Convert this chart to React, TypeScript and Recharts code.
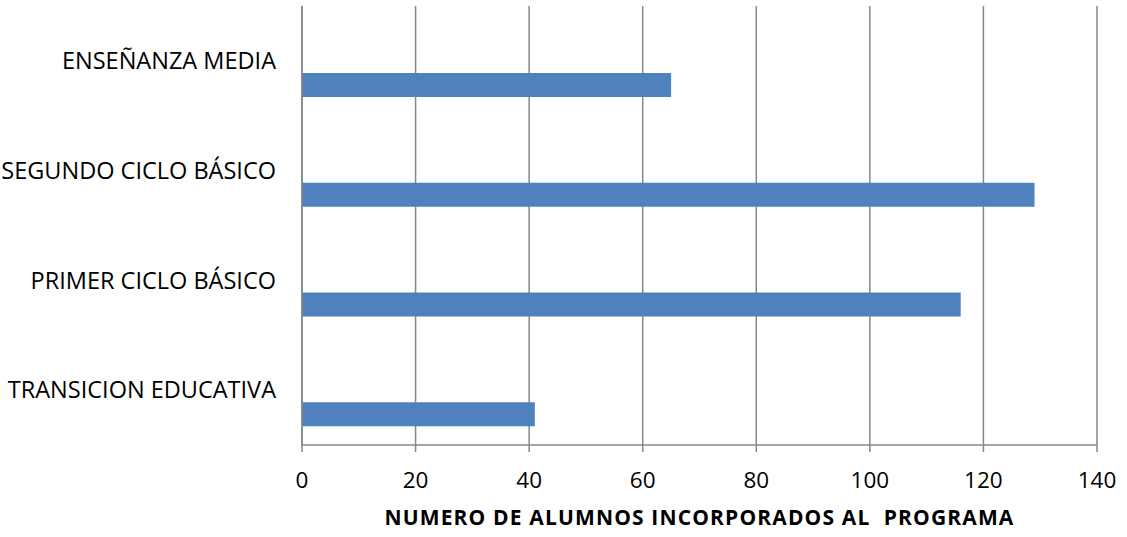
import React from "react";
import { BarChart, Bar, XAxis, YAxis, CartesianGrid, Label } from "recharts";

const categories = [
  "ENSEÑANZA MEDIA",
  "SEGUNDO CICLO BÁSICO",
  "PRIMER CICLO BÁSICO",
  "TRANSICION EDUCATIVA",
];
const values = [65, 129, 116, 41];
const xTicks = [0, 20, 40, 60, 80, 100, 120, 140];
const xTitle = "NUMERO DE ALUMNOS INCORPORADOS AL  PROGRAMA";

const data = categories.map((c, i) => ({ name: c, alumnos: values[i] }));

const FONT = "'Open Sans', sans-serif";
const GRID = "#878787";

const TitleLabel = (props: any) => {
  const vb = props.viewBox || {};
  const cx = vb.x + vb.width / 2;
  const y = vb.y + vb.height - 12;
  return (
    <text
      x={cx}
      y={y}
      textAnchor="middle"
      fill="#000"
      fontSize={21}
      fontWeight={700}
      fontFamily={FONT}
      letterSpacing={1.15}
      xmlSpace="preserve"
      style={{ whiteSpace: "pre" }}
    >
      {xTitle}
    </text>
  );
};

export default function App() {
  return (
    <div style={{ position: "absolute", left: 0, top: 0, width: 1127, height: 537, background: "#fff" }}>
      <BarChart
        width={1127}
        height={537}
        data={data}
        layout="vertical"
        margin={{ top: 6, right: 30, left: 0, bottom: 0 }}
        barGap={0}
        barSize={24}
      >
        <CartesianGrid horizontal={false} vertical={true} stroke={GRID} strokeWidth={1.5} />
        <XAxis
          type="number"
          domain={[0, 140]}
          ticks={xTicks}
          height={92}
          interval={0}
          axisLine={{ stroke: GRID, strokeWidth: 1.5 }}
          tickLine={{ stroke: GRID, strokeWidth: 1.5 }}
          tickSize={7}
          tickMargin={20}
          tick={{ fill: "#000", fontSize: 22.5, fontFamily: FONT }}
        >
          <Label content={<TitleLabel />} position="insideBottom" />
        </XAxis>
        <YAxis
          type="category"
          dataKey="name"
          width={302}
          axisLine={{ stroke: GRID, strokeWidth: 1.5 }}
          tickLine={false}
          tickSize={0}
          tickMargin={26}
          interval={0}
          tick={{ fill: "#000", fontSize: 23.5, fontFamily: FONT }}
        />
        <Bar dataKey="empty1" fill="#C0504D" isAnimationActive={false} />
        <Bar dataKey="empty2" fill="#9BBB59" isAnimationActive={false} />
        <Bar dataKey="alumnos" fill="#4F81BD" isAnimationActive={false} />
      </BarChart>
    </div>
  );
}
